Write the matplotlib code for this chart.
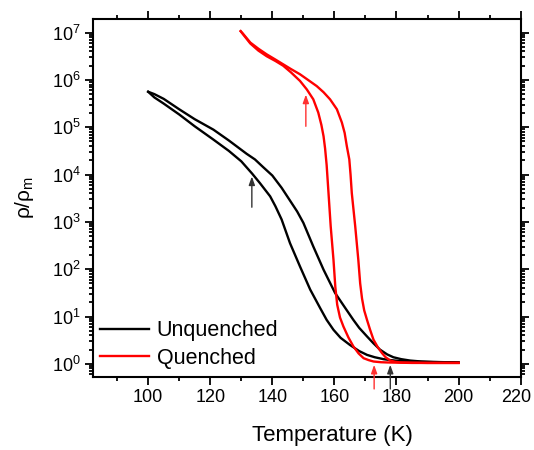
import matplotlib
matplotlib.use("Agg")
import matplotlib.pyplot as plt
from matplotlib.ticker import MultipleLocator, FixedLocator, NullFormatter
from matplotlib.transforms import ScaledTranslation

plt.rcParams['font.family'] = ['Liberation Sans', 'DejaVu Sans']
plt.rcParams['mathtext.fontset'] = 'custom'
plt.rcParams['mathtext.rm'] = 'Liberation Sans'
plt.rcParams['mathtext.it'] = 'Liberation Sans'
plt.rcParams['mathtext.default'] = 'regular'

# Unquenched, lower branch
T_unq_low = [100, 102, 105, 110, 115, 121, 126, 130, 133.5, 136, 139.3, 141, 143, 145.7,
             148.9, 152.2, 155.4, 157.5, 159.7, 162, 165, 168, 170.5, 173, 175.8, 178, 181, 185, 190, 195, 200]
log_unq_low = [5.75, 5.63, 5.50, 5.27, 5.02, 4.74, 4.50, 4.28, 4.02, 3.82, 3.54, 3.33, 3.05, 2.55,
               2.06, 1.57, 1.18, 0.93, 0.72, 0.55, 0.40, 0.27, 0.19, 0.14, 0.10, 0.08, 0.06, 0.05, 0.04, 0.035, 0.03]
# Unquenched, upper branch
T_unq_up = [100, 102, 105, 110, 115, 121, 126, 131.7, 134.4, 137, 140, 143, 146, 148, 150,
            153.2, 156.5, 160.2, 163.5, 166.1, 168, 170.5, 172.5, 174.7, 177, 179, 181.5, 184.4, 188, 192, 196, 200]
log_unq_up = [5.75, 5.70, 5.60, 5.38, 5.17, 4.95, 4.72, 4.44, 4.32, 4.16, 3.98, 3.72, 3.42, 3.22, 2.98,
              2.48, 1.99, 1.50, 1.18, 0.93, 0.76, 0.58, 0.44, 0.30, 0.20, 0.14, 0.10, 0.07, 0.05, 0.04, 0.035, 0.03]
# Quenched, lower branch
T_q_low = [129.8, 130.5, 132.9, 135.5, 138.2, 141, 143.5, 146, 148.9, 151.1, 153.2, 154.8, 155.8, 156.5,
           157.0, 157.5, 158.1, 158.8, 159.7, 160.3, 160.9, 161.8, 162.9, 164.5, 166.1, 167.8, 169.4, 171,
           172.6, 175, 177, 181, 185, 190, 200]
log_q_low = [7.03, 6.97, 6.77, 6.62, 6.50, 6.40, 6.30, 6.16, 5.98, 5.80, 5.59, 5.31, 5.05, 4.81,
             4.55, 4.20, 3.61, 2.91, 2.20, 1.62, 1.25, 0.98, 0.79, 0.56, 0.37, 0.22, 0.12, 0.08,
             0.05, 0.035, 0.03, 0.025, 0.02, 0.02, 0.02]
# Quenched, upper branch
T_q_up = [129.8, 130.5, 132.9, 135.5, 138.2, 141, 143.5, 146, 148.9, 151.5, 154.3, 156.5, 158.6, 160.8,
          162.4, 163.3, 164.0, 164.8, 165.2, 165.6, 166.7, 167.7, 168.3, 168.9, 169.6, 170.5, 171.5, 172.6,
          174, 175.3, 176.5, 178, 179.5, 181.2, 185, 190, 200]
log_q_up = [7.03, 6.98, 6.79, 6.66, 6.54, 6.43, 6.33, 6.23, 6.12, 6.00, 5.87, 5.74, 5.59, 5.38,
            5.10, 4.88, 4.60, 4.32, 4.00, 3.61, 2.91, 2.20, 1.70, 1.38, 1.13, 0.93, 0.72, 0.51,
            0.35, 0.23, 0.14, 0.07, 0.045, 0.03, 0.025, 0.02, 0.02]

# Arrows: (T, log tail, log tip)
arrow_black_T, arrow_black_tail, arrow_black_tip = 133.4, 3.31, 3.96
arrow_red_T, arrow_red_tail, arrow_red_tip = 150.8, 5.02, 5.69
arrow_red_bot_T, arrow_black_bot_T = 172.8, 178.0
arrow_bot_tail, arrow_bot_tip = -0.53, -0.02

legend_labels = ['Unquenched', 'Quenched']
x_ticks = [100, 120, 140, 160, 180, 200, 220]
y_decades = [0, 1, 2, 3, 4, 5, 6, 7]

fig = plt.figure(figsize=(5.34, 4.50), dpi=100)
ax = fig.add_axes([0.174, 0.163, 0.801, 0.794])

to_rho = lambda L: [10 ** v for v in L]

ax.plot(T_unq_low, to_rho(log_unq_low), color='black', lw=1.7, label=legend_labels[0])
ax.plot(T_unq_up, to_rho(log_unq_up), color='black', lw=1.7)
ax.plot(T_q_low, to_rho(log_q_low), color='#ff0000', lw=1.7, label=legend_labels[1])
ax.plot(T_q_up, to_rho(log_q_up), color='#ff0000', lw=1.7)

ax.set_yscale('log')
ax.set_xlim(82.2, 220)
ax.set_ylim(10 ** -0.27, 10 ** 7.28)

def arrow(x, y0, y1, color):
    ax.annotate('', xy=(x, 10 ** y1), xytext=(x, 10 ** y0),
                arrowprops=dict(arrowstyle='-|>,head_length=0.5,head_width=0.18', color=color, lw=1.0,
                                shrinkA=0, shrinkB=0),
                annotation_clip=False)

arrow(arrow_black_T, arrow_black_tail, arrow_black_tip, '#333333')
arrow(arrow_red_T, arrow_red_tail, arrow_red_tip, '#ff3030')
arrow(arrow_red_bot_T, arrow_bot_tail, arrow_bot_tip, '#ff3030')
arrow(arrow_black_bot_T, arrow_bot_tail, arrow_bot_tip, '#333333')

ax.set_xticks(x_ticks)
ax.xaxis.set_minor_locator(MultipleLocator(10))
ax.set_yticks([10.0 ** d for d in y_decades])
minor_y = [m * 10.0 ** d for d in [-1] + y_decades for m in range(2, 10)]
minor_y = [v for v in minor_y if 10 ** -0.27 <= v <= 10 ** 7.28]
ax.yaxis.set_minor_locator(FixedLocator(minor_y))
ax.yaxis.set_minor_formatter(NullFormatter())

ax.tick_params(which='both', direction='out', top=True, right=True, width=1.3, labelsize=13)
ax.tick_params(which='major', length=5.5)
ax.tick_params(which='minor', length=3)
for s in ax.spines.values():
    s.set_linewidth(1.5)

# keep the last x tick label inside the figure
last = ax.get_xticklabels()[-1]
last.set_transform(last.get_transform() + ScaledTranslation(-4 / 100, 0, fig.dpi_scale_trans))

ax.set_xlabel('Temperature (K)', fontsize=16)
ax.xaxis.set_label_coords(0.559, -0.135)
ax.set_ylabel(r'$\rho/\rho_m$', fontsize=15, labelpad=11)

ax.legend(loc='lower left', bbox_to_anchor=(0.016, 0.022), frameon=False, fontsize=15.5,
          handlelength=2.3, handletextpad=0.35, labelspacing=0.3, borderpad=0, borderaxespad=0)

fig.savefig('out.png', dpi=100)
